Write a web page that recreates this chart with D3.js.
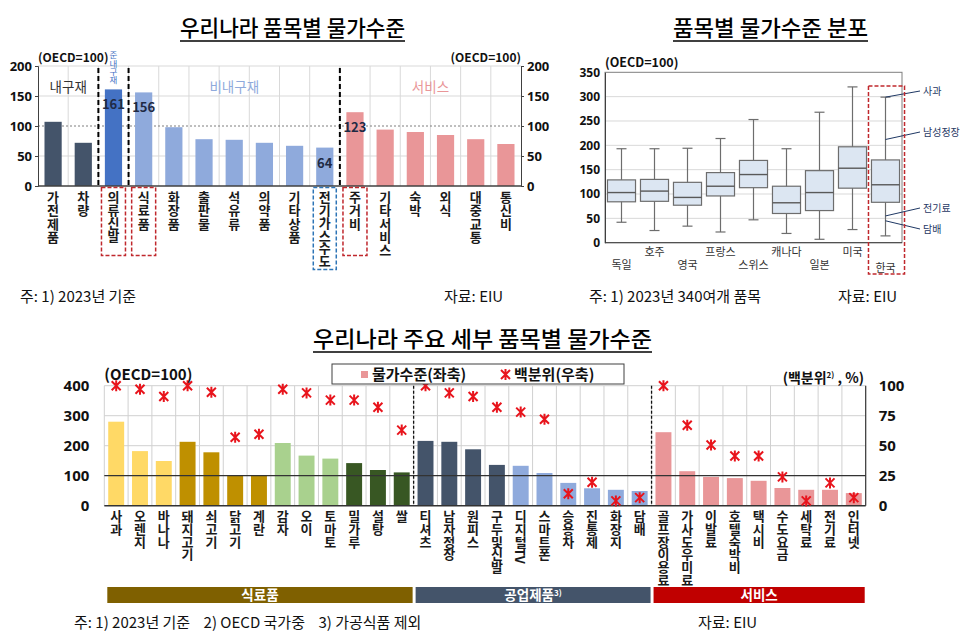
<!DOCTYPE html>
<html><head><meta charset="utf-8">
<script src="https://cdn.jsdelivr.net/npm/d3@7"></script>
<style>
body{margin:0;background:#fff;}
svg{display:block;font-family:"Noto Sans CJK KR","Noto Sans",sans-serif;}
.vt{writing-mode:vertical-rl;text-orientation:mixed;}
</style></head><body>
<svg id="c" width="975" height="642"></svg>
<script>
// ================= DATA =================
// Chart 1: 우리나라 품목별 물가수준 (OECD=100)
const cat1 = ["가전제품","차량","의류·신발","식료품","화장품","출판물","석유류","의약품","기타상품","전기·가스·수도","주거비","기타서비스","숙박","외식","대중교통","통신비"];
const val1 = [107,72,161,156,98,78,77,72,67,64,123,94,90,85,78,70];
const type1 = ["내구재","내구재","준내구재","비내구재","비내구재","비내구재","비내구재","비내구재","비내구재","비내구재","서비스","서비스","서비스","서비스","서비스","서비스"];
const ticks1 = [0,50,100,150,200];
const valueLabel1 = ["의류·신발","식료품","전기·가스·수도","주거비"];
const redBox1 = ["의류·신발","식료품","주거비"];
const blueBox1 = ["전기·가스·수도"];
const groupLabels1 = ["내구재","비내구재","서비스"];

// Chart 2: 품목별 물가수준 분포 (box plot)
const countries = ["독일","호주","영국","프랑스","스위스","캐나다","일본","미국","한국"];
const boxMin = [42,25,34,22,47,19,7,27,14];
const boxQ1  = [84,85,77,96,113,60,66,112,83];
const boxMed = [103,106,93,116,140,82,103,153,119];
const boxQ3  = [129,130,124,144,169,116,148,197,170];
const boxMax = [193,193,194,214,253,193,268,320,299];
const ticks2 = [0,50,100,150,200,250,300,350];
const koreaNotes = ["사과","남성정장","전기료","담배"];
const koreaNoteVals = [299,212,55,45];

// Chart 3: 우리나라 주요 세부 품목별 물가수준
const cat3 = ["사과","오렌지","바나나","돼지고기","쇠고기","닭고기","계란","감자","오이","토마토","밀가루","설탕","쌀",
              "티셔츠","남자정장","원피스","구두및신발","디지털TV","스마트폰","승용차","진통제","화장지","담배",
              "골프장이용료","가사도우미료","이발료","호텔숙박비","택시비","수도요금","세탁료","전기료","인터넷"];
const price3 = [280,182,149,213,178,102,102,209,167,157,142,119,111,
                216,213,188,136,133,109,76,58,53,49,
                245,115,96,92,83,59,53,53,42];
const pct3 = [100,97,91,100,94.5,57,59.5,97,94,88,88,82,63,
              100,94,91,82,78,72,10,19.5,4,6.7,
              100,67,50.6,41.4,41.4,24,4,19,6.7];
const group3 = [].concat(Array(13).fill("식료품"),Array(10).fill("공업제품"),Array(9).fill("서비스"));
const sub3 = ["과일","과일","과일","육류","육류","육류","육류","채소","채소","채소","곡물","곡물","곡물",
              "의류","의류","의류","의류","공산품","공산품","공산품","공산품","공산품","공산품",
              "서비스","서비스","서비스","서비스","서비스","서비스","서비스","서비스","서비스"];
const groups3 = ["식료품","공업제품","서비스"];
const ticks3L = [0,100,200,300,400];
const ticks3R = [0,25,50,75,100];

// ================= STYLES =================
const color1 = {"내구재":"#44546a","준내구재":"#4472c4","비내구재":"#8faadc","서비스":"#e99698"};
const labelColor1 = {"내구재":"#333333","비내구재":"#8faadc","서비스":"#e99698"};
const color3 = {"과일":"#ffd966","육류":"#bf9000","채소":"#a9d18e","곡물":"#385723","의류":"#44546a","공산품":"#8faadc","서비스":"#e99698"};
const groupColor3 = {"식료품":"#7f6000","공업제품":"#44546a","서비스":"#c00000"};

const svg = d3.select("#c");

// vertical (top-to-bottom) label as one text element; middle dots take little room
function vLabel(g, txt, cx, yTop, spacing){
  const t=g.append("text").attr("class","vt").attr("x",cx).attr("y",yTop).attr("letter-spacing",spacing);
  const parts=txt.split("·");
  parts.forEach((p,i)=>{
    if(i>0){
      t.append("tspan").attr("dy",-3).text("·");
      t.append("tspan").attr("dy",-6).text(p);
    } else t.append("tspan").text(p);
  });
}
function title(txt, x0, x1, base, ul){
  svg.append("text").attr("x",x0).attr("y",base).attr("font-size",22).attr("font-weight",500)
    .attr("textLength",x1-x0).attr("lengthAdjust","spacingAndGlyphs").attr("fill","#000").text(txt);
  svg.append("line").attr("x1",x0).attr("x2",x1).attr("y1",ul).attr("y2",ul).attr("stroke","#000").attr("stroke-width",1.5);
}
function star(g, x, y){
  const s=4.5;
  g.append("path").attr("d",`M${x-s},${y-s}L${x+s},${y+s}M${x-s},${y+s}L${x+s},${y-s}M${x},${y-s-1}L${x},${y+s+1}`)
    .attr("stroke","#e8141c").attr("stroke-width",2).attr("fill","none");
}

// ================= TITLES =================
title("우리나라 품목별 물가수준",180,405,36,41);
title("품목별 물가수준 분포",673,868,36,41);
title("우리나라 주요 세부 품목별 물가수준",313,652,347,352);

// ================= CHART 1 =================
{
  const L=38,R=521,T=66,B=186;
  const x=d3.scaleBand().domain(cat1).range([L,R]).paddingInner(0.43).paddingOuter(0.215);
  const y=d3.scaleLinear().domain([0,200]).range([B,T]);
  const st=x.step(), off=x.paddingInner()*st/2;
  const edge=d=>x(d)-off;
  const g=svg.append("g");
  cat1.slice(1).forEach(d=>g.append("line").attr("x1",edge(d)).attr("x2",edge(d)).attr("y1",T).attr("y2",B).attr("stroke","#d9d9d9"));
  ticks1.filter(t=>t>0&&t!==100).forEach(t=>g.append("line").attr("x1",L).attr("x2",R).attr("y1",y(t)).attr("y2",y(t)).attr("stroke","#d9d9d9"));
  g.append("line").attr("x1",L).attr("x2",R).attr("y1",y(100)).attr("y2",y(100)).attr("stroke","#7f7f7f").attr("stroke-dasharray","2,2");
  g.selectAll("rect.bar").data(cat1).join("rect").attr("class","bar")
    .attr("x",d=>x(d)).attr("width",x.bandwidth())
    .attr("y",(d,i)=>y(val1[i])).attr("height",(d,i)=>y(0)-y(val1[i]))
    .attr("fill",(d,i)=>color1[type1[i]]);
  ["의류·신발","식료품","주거비"].forEach(d=>g.append("line").attr("x1",edge(d)).attr("x2",edge(d)).attr("y1",T+2).attr("y2",B)
     .attr("stroke","#000").attr("stroke-width",2).attr("stroke-dasharray","5,3"));
  const gl=g.append("g").attr("transform",`translate(${L},0)`).call(d3.axisLeft(y).tickValues(ticks1).tickSize(3).tickPadding(3));
  const gr=g.append("g").attr("transform",`translate(${R},0)`).call(d3.axisRight(y).tickValues(ticks1).tickSize(3).tickPadding(3));
  [gl,gr].forEach(a=>{a.select(".domain").attr("stroke","#404040");a.selectAll(".tick line").attr("stroke","#404040");
    a.selectAll("text").attr("font-size",13).attr("font-weight",700).attr("fill","#111").attr("font-family",'"Noto Sans","Noto Sans CJK KR",sans-serif');});
  g.append("line").attr("x1",L).attr("x2",R).attr("y1",B).attr("y2",B).attr("stroke","#404040").attr("stroke-width",1.5);
  valueLabel1.forEach(d=>{const i=cat1.indexOf(d);
    g.append("text").attr("x",x(d)+x.bandwidth()/2).attr("y",y(val1[i])+20).attr("text-anchor","middle")
     .attr("font-size",13).attr("font-weight",700).attr("fill","#1f2a44").text(val1[i]);});
  groupLabels1.forEach(k=>{
    const idx=type1.map((t,i)=>t===k?i:-1).filter(i=>i>=0);
    const cx=(edge(cat1[idx[0]])+edge(cat1[idx[idx.length-1]])+st)/2;
    g.append("text").attr("x",cx).attr("y",92).attr("text-anchor","middle").attr("font-size",13.5)
      .attr("fill",labelColor1[k]).text(k);
  });
  {const d="의류·신발"; const gg=g.append("g").attr("font-size",8.5).attr("fill","#4472c4");
   vLabel(gg,"준내구재",x(d)+x.bandwidth()/2,51,-0.3);}
  const gx=g.append("g").attr("font-size",13).attr("font-weight",700).attr("fill","#1a1a1a");
  cat1.forEach(d=>vLabel(gx,d,x(d)+x.bandwidth()/2,190.5,0.3));
  redBox1.forEach(d=>g.append("rect").attr("x",x(d)+x.bandwidth()/2-12).attr("y",187.5).attr("width",24).attr("height",68)
    .attr("fill","none").attr("stroke","#c0282d").attr("stroke-width",1.5).attr("stroke-dasharray","4,2"));
  blueBox1.forEach(d=>g.append("rect").attr("x",x(d)+x.bandwidth()/2-11.5).attr("y",187.5).attr("width",23).attr("height",82)
    .attr("fill","none").attr("stroke","#2e75b6").attr("stroke-width",1.5).attr("stroke-dasharray","4,2"));
  g.append("text").attr("x",L).attr("y",62).attr("font-size",12).attr("font-weight",700).attr("fill","#111").text("(OECD=100)");
  g.append("text").attr("x",R).attr("y",62).attr("text-anchor","end").attr("font-size",12).attr("font-weight",700).attr("fill","#111").text("(OECD=100)");
  svg.append("text").attr("x",20).attr("y",302).attr("font-size",15).attr("fill","#111").text("주: 1) 2023년 기준");
  svg.append("text").attr("x",444).attr("y",302).attr("font-size",15).attr("fill","#111").text("자료: EIU");
}

// ================= CHART 2 =================
{
  const L=605,R=902,T=72.3,B=242.7;
  const x=d3.scaleBand().domain(countries).range([L,R]).paddingInner(0.15).paddingOuter(0.075);
  const y=d3.scaleLinear().domain([0,350]).range([B,T]);
  const g=svg.append("g");
  ticks2.filter(t=>t>0&&t<350).forEach(t=>g.append("line").attr("x1",L).attr("x2",R).attr("y1",y(t)).attr("y2",y(t)).attr("stroke","#d9d9d9"));
  g.append("rect").attr("x",L).attr("y",T).attr("width",R-L).attr("height",B-T).attr("fill","none").attr("stroke","#7f7f7f");
  const ax=g.append("g").attr("transform",`translate(${L},0)`).call(d3.axisLeft(y).tickValues(ticks2).tickSize(0).tickPadding(5));
  ax.select(".domain").attr("stroke","#404040");
  ax.selectAll("text").attr("font-size",12).attr("font-weight",700).attr("fill","#111").attr("font-family",'"Noto Sans",sans-serif');
  g.append("line").attr("x1",L).attr("x2",R).attr("y1",B).attr("y2",B).attr("stroke","#404040");
  countries.forEach((c,i)=>{
    const cx=x(c)+x.bandwidth()/2, bw=x.bandwidth();
    g.append("line").attr("x1",cx).attr("x2",cx).attr("y1",y(boxMin[i])).attr("y2",y(boxMax[i])).attr("stroke","#6d6d6d").attr("stroke-width",1.2);
    [boxMin[i],boxMax[i]].forEach(v=>g.append("line").attr("x1",cx-5).attr("x2",cx+5).attr("y1",y(v)).attr("y2",y(v)).attr("stroke","#6d6d6d").attr("stroke-width",1.2));
    g.append("rect").attr("x",x(c)).attr("width",bw).attr("y",y(boxQ3[i])).attr("height",y(boxQ1[i])-y(boxQ3[i]))
      .attr("fill","#dce6f2").attr("stroke","#6d6d6d").attr("stroke-width",1.2);
    g.append("line").attr("x1",x(c)).attr("x2",x(c)+bw).attr("y1",y(boxMed[i])).attr("y2",y(boxMed[i])).attr("stroke","#595959").attr("stroke-width",1.4);
    const lower = (i%2===0);
    g.append("text").attr("x",cx).attr("y",lower?(c==="한국"?272:269):256).attr("text-anchor","middle")
      .attr("font-size",11).attr("fill","#333").text(c);
  });
  const kx=x("한국")+x.bandwidth()/2;
  const noteY=[91,132,208,229];
  koreaNotes.forEach((n,i)=>{
    g.append("line").attr("x1",kx).attr("y1",y(koreaNoteVals[i])).attr("x2",920).attr("y2",noteY[i]).attr("stroke","#1f3864").attr("stroke-width",1);
    g.append("text").attr("x",923).attr("y",noteY[i]+3.5).attr("font-size",10).attr("fill","#1f3864").text(n);
  });
  g.append("rect").attr("x",x("한국")-3).attr("y",86).attr("width",x.bandwidth()+8).attr("height",188)
    .attr("fill","none").attr("stroke","#c0282d").attr("stroke-width",1.5).attr("stroke-dasharray","4,2");
  g.append("text").attr("x",L).attr("y",67).attr("font-size",12.5).attr("font-weight",700).attr("fill","#111").text("(OECD=100)");
  svg.append("text").attr("x",589).attr("y",302).attr("font-size",15).attr("fill","#111").text("주: 1) 2023년 340여개 품목");
  svg.append("text").attr("x",838).attr("y",302).attr("font-size",15).attr("fill","#111").text("자료: EIU");
}

// ================= CHART 3 =================
{
  const L=104.3,R=865.7,T=385.7,B=505.7;
  const x=d3.scaleBand().domain(cat3).range([L,R]).paddingInner(0.33).paddingOuter(0.165);
  const y=d3.scaleLinear().domain([0,400]).range([B,T]);
  const yr=d3.scaleLinear().domain([0,100]).range([B,T]);
  const st=x.step(), off=x.paddingInner()*st/2;
  const edge=d=>x(d)-off;
  const g=svg.append("g");
  cat3.forEach(d=>g.append("line").attr("x1",edge(d)).attr("x2",edge(d)).attr("y1",T).attr("y2",B).attr("stroke","#d0d0d0"));
  ticks3L.filter(t=>t>100).forEach(t=>g.append("line").attr("x1",L).attr("x2",R).attr("y1",y(t)).attr("y2",y(t)).attr("stroke","#d0d0d0"));
  g.selectAll("rect.bar").data(cat3).join("rect").attr("class","bar")
    .attr("x",d=>x(d)).attr("width",x.bandwidth())
    .attr("y",(d,i)=>y(price3[i])).attr("height",(d,i)=>y(0)-y(price3[i]))
    .attr("fill",(d,i)=>color3[sub3[i]]);
  g.append("line").attr("x1",L).attr("x2",R).attr("y1",y(100)).attr("y2",y(100)).attr("stroke","#333").attr("stroke-width",1.2);
  ["티셔츠","골프장이용료"].forEach(d=>g.append("line").attr("x1",edge(d)).attr("x2",edge(d)).attr("y1",T).attr("y2",B)
     .attr("stroke","#111").attr("stroke-width",1.3).attr("stroke-dasharray","3,2"));
  g.append("line").attr("x1",L).attr("x2",R).attr("y1",B).attr("y2",B).attr("stroke","#333").attr("stroke-width",1.5);
  g.append("line").attr("x1",R).attr("x2",R).attr("y1",T).attr("y2",B).attr("stroke","#333").attr("stroke-width",1.2);
  cat3.forEach((d,i)=>star(g,x(d)+x.bandwidth()/2,yr(pct3[i])));
  const al=g.append("g").attr("transform",`translate(${L},0)`).call(d3.axisLeft(y).tickValues(ticks3L).tickSize(0).tickPadding(15));
  const ar=g.append("g").attr("transform",`translate(${R},0)`).call(d3.axisRight(yr).tickValues(ticks3R).tickSize(0).tickPadding(13));
  [al,ar].forEach(a=>{a.select(".domain").remove();
    a.selectAll("text").attr("font-size",15).attr("font-weight",700).attr("fill","#111").attr("font-family",'"Noto Sans",sans-serif');});
  const gx=g.append("g").attr("font-size",13).attr("font-weight",700).attr("fill","#1a1a1a");
  cat3.forEach(d=>vLabel(gx,d,x(d)+x.bandwidth()/2,509.5,-0.2));
  groups3.forEach(k=>{
    const items=cat3.filter((d,i)=>group3[i]===k);
    const x0=edge(items[0])+ (k==="식료품"?3:2), x1=edge(items[items.length-1])+st-1;
    g.append("rect").attr("x",x0).attr("y",587).attr("width",x1-x0).attr("height",16).attr("fill",groupColor3[k]);
    const t=g.append("text").attr("x",(x0+x1)/2).attr("y",600).attr("text-anchor","middle").attr("font-size",13.5)
      .attr("font-weight",700).attr("fill","#fff");
    t.append("tspan").text(k);
    if(k==="공업제품") t.append("tspan").attr("font-size",8).attr("dy",-4).text("3)");
  });
  g.append("rect").attr("x",332).attr("y",364).attr("width",292).attr("height",20).attr("fill","#fff").attr("stroke","#404040");
  g.append("rect").attr("x",361).attr("y",371).attr("width",7).attr("height",7).attr("fill","#e99698");
  g.append("text").attr("x",372).attr("y",380).attr("font-size",15).attr("font-weight",700).attr("fill","#111").text("물가수준(좌축)");
  star(g,505.5,374.5);
  g.append("text").attr("x",514).attr("y",380).attr("font-size",15).attr("font-weight",700).attr("fill","#111").text("백분위(우축)");
  g.append("text").attr("x",L).attr("y",380).attr("font-size",15).attr("font-weight",700).attr("fill","#111").text("(OECD=100)");
  const rt=g.append("text").attr("x",864).attr("y",383).attr("text-anchor","end").attr("font-size",14).attr("font-weight",700).attr("fill","#111");
  rt.append("tspan").text("(백분위");
  rt.append("tspan").attr("font-size",8).attr("dy",-5).text("2)");
  rt.append("tspan").attr("dy",5).text(" , %)");
  svg.append("text").attr("x",74).attr("y",628).attr("font-size",15).attr("fill","#111").attr("xml:space","preserve")
    .text("주: 1) 2023년 기준    2) OECD 국가중    3) 가공식품 제외");
  svg.append("text").attr("x",698).attr("y",628).attr("font-size",15).attr("fill","#111").text("자료: EIU");
}
</script>
</body></html>
